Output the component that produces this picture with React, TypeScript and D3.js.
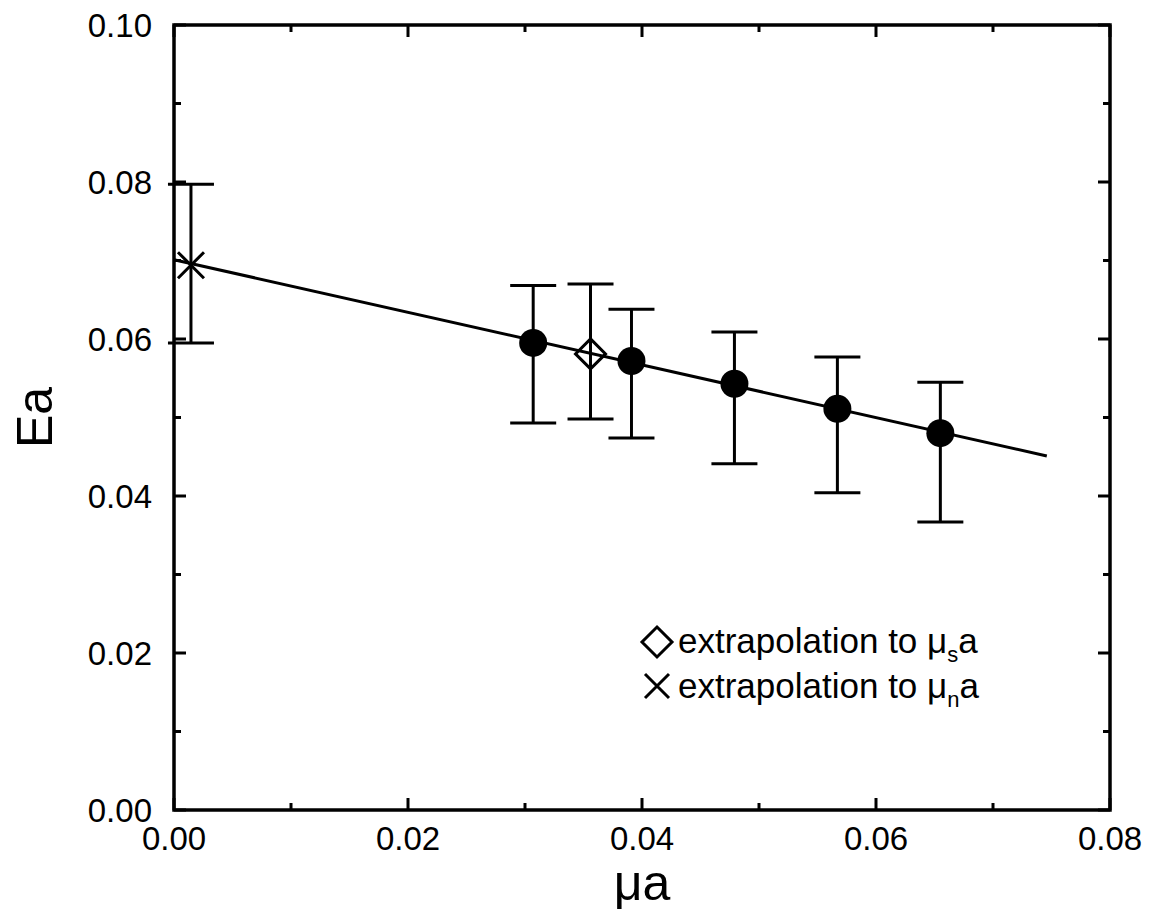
import React from "react";
import * as d3 from "d3";

// Data
const muA = [0.0307, 0.0391, 0.0479, 0.0567, 0.0655];
const eA = [0.0595, 0.0572, 0.0543, 0.0511, 0.048];
const eAHi = [0.0668, 0.0638, 0.0609, 0.0577, 0.0545];
const eALo = [0.0493, 0.0474, 0.0441, 0.0404, 0.0367];

const diamondX = [0.0356];
const diamondY = [0.0581];
const diamondHi = [0.067];
const diamondLo = [0.0498];

const crossX = [0.00145];
const crossY = [0.0694];
const crossHi = [0.0797];
const crossLo = [0.0595];

const fitX = [0, 0.0746];
const fitY = [0.0701, 0.0451];

const xTicks = [0, 0.02, 0.04, 0.06, 0.08];
const xMinor = [0.01, 0.03, 0.05, 0.07];
const yTicks = [0, 0.02, 0.04, 0.06, 0.08, 0.1];
const yMinor = [0.01, 0.03, 0.05, 0.07, 0.09];

const legendLabels = ["extrapolation to ", "extrapolation to "];
const legendSubs = ["s", "n"];

const W = 1152;
const H = 913;
const L = 174, R = 1110, T = 25, B = 810;
const FONT = "Liberation Sans, Arial, sans-serif";

export default function App() {
  const x = d3.scaleLinear().domain([0, 0.08]).range([L, R]);
  const y = d3.scaleLinear().domain([0, 0.1]).range([B, T]);
  const line = d3.line<number>().x((_, i) => x(fitX[i])).y((_, i) => y(fitY[i]));
  const cap = 23;
  const major = 12, minor = 7;
  const sw = 3;

  const errBar = (cx: number, lo: number, hi: number, key: string) => (
    <g key={key} stroke="#000" strokeWidth={sw} fill="none">
      <line x1={x(cx)} x2={x(cx)} y1={y(lo)} y2={y(hi)} />
      <line x1={x(cx) - cap} x2={x(cx) + cap} y1={y(lo)} y2={y(lo)} />
      <line x1={x(cx) - cap} x2={x(cx) + cap} y1={y(hi)} y2={y(hi)} />
    </g>
  );

  const diamond = (cx: number, cy: number, s: number) =>
    `M${cx},${cy - s}L${cx + s},${cy}L${cx},${cy + s}L${cx - s},${cy}Z`;
  const cross = (cx: number, cy: number, s: number) =>
    `M${cx - s},${cy - s}L${cx + s},${cy + s}M${cx - s},${cy + s}L${cx + s},${cy - s}`;

  return (
    <svg width={W} height={H} style={{ position: "absolute", left: 0, top: 0, background: "#fff" }} fontFamily={FONT}>
      <rect x={0} y={0} width={W} height={H} fill="#fff" />
      {/* ticks */}
      <g stroke="#000" strokeWidth={3}>
        {xTicks.map((t) => (
          <g key={"xt" + t}>
            <line x1={x(t)} x2={x(t)} y1={B} y2={B - major} />
            <line x1={x(t)} x2={x(t)} y1={T} y2={T + major} />
          </g>
        ))}
        {xMinor.map((t) => (
          <g key={"xm" + t}>
            <line x1={x(t)} x2={x(t)} y1={B} y2={B - minor} />
            <line x1={x(t)} x2={x(t)} y1={T} y2={T + minor} />
          </g>
        ))}
        {yTicks.map((t) => (
          <g key={"yt" + t}>
            <line x1={L} x2={L + major} y1={y(t)} y2={y(t)} />
            <line x1={R} x2={R - major} y1={y(t)} y2={y(t)} />
          </g>
        ))}
        {yMinor.map((t) => (
          <g key={"ym" + t}>
            <line x1={L} x2={L + minor} y1={y(t)} y2={y(t)} />
            <line x1={R} x2={R - minor} y1={y(t)} y2={y(t)} />
          </g>
        ))}
      </g>
      {/* frame */}
      <rect x={L} y={T} width={R - L} height={B - T} fill="none" stroke="#000" strokeWidth={3.5} />
      {/* tick labels */}
      {xTicks.map((t) => (
        <text key={"xl" + t} x={x(t)} y={850} fontSize={33} textAnchor="middle" fill="#000">
          {t.toFixed(2)}
        </text>
      ))}
      {yTicks.map((t) => (
        <text key={"yl" + t} x={152} y={y(t) + 12} fontSize={33} textAnchor="end" fill="#000">
          {t.toFixed(2)}
        </text>
      ))}
      {/* axis titles */}
      <text x={(L + R) / 2} y={900} fontSize={50} textAnchor="middle" fill="#000">μa</text>
      <text transform={`translate(52,${(T + B) / 2}) rotate(-90)`} fontSize={50} textAnchor="middle" fill="#000">Ea</text>
      {/* fit line */}
      <path d={line(fitX) || ""} fill="none" stroke="#000" strokeWidth={sw} />
      {/* error bars */}
      {muA.map((v, i) => errBar(v, eALo[i], eAHi[i], "e" + i))}
      {diamondX.map((v, i) => errBar(v, diamondLo[i], diamondHi[i], "d" + i))}
      {crossX.map((v, i) => errBar(v, crossLo[i], crossHi[i], "c" + i))}
      {/* markers */}
      {muA.map((v, i) => (
        <circle key={"p" + i} cx={x(v)} cy={y(eA[i])} r={14} fill="#000" />
      ))}
      {diamondX.map((v, i) => (
        <path key={"dm" + i} d={diamond(x(v), y(diamondY[i]), 15)} fill="none" stroke="#000" strokeWidth={sw} />
      ))}
      {crossX.map((v, i) => (
        <path key={"cm" + i} d={cross(x(v), y(crossY[i]), 13)} fill="none" stroke="#000" strokeWidth={sw} />
      ))}
      {/* legend */}
      <path d={diamond(657, 642, 15)} fill="none" stroke="#000" strokeWidth={sw} />
      <path d={cross(657, 686, 12)} fill="none" stroke="#000" strokeWidth={sw} />
      {legendLabels.map((lab, i) => (
        <text key={"lg" + i} x={678} y={653 + i * 45} fontSize={35} fill="#000">
          {lab}μ
          <tspan fontSize={22} dy={9}>{legendSubs[i]}</tspan>
          <tspan dy={-9}>a</tspan>
        </text>
      ))}
    </svg>
  );
}
